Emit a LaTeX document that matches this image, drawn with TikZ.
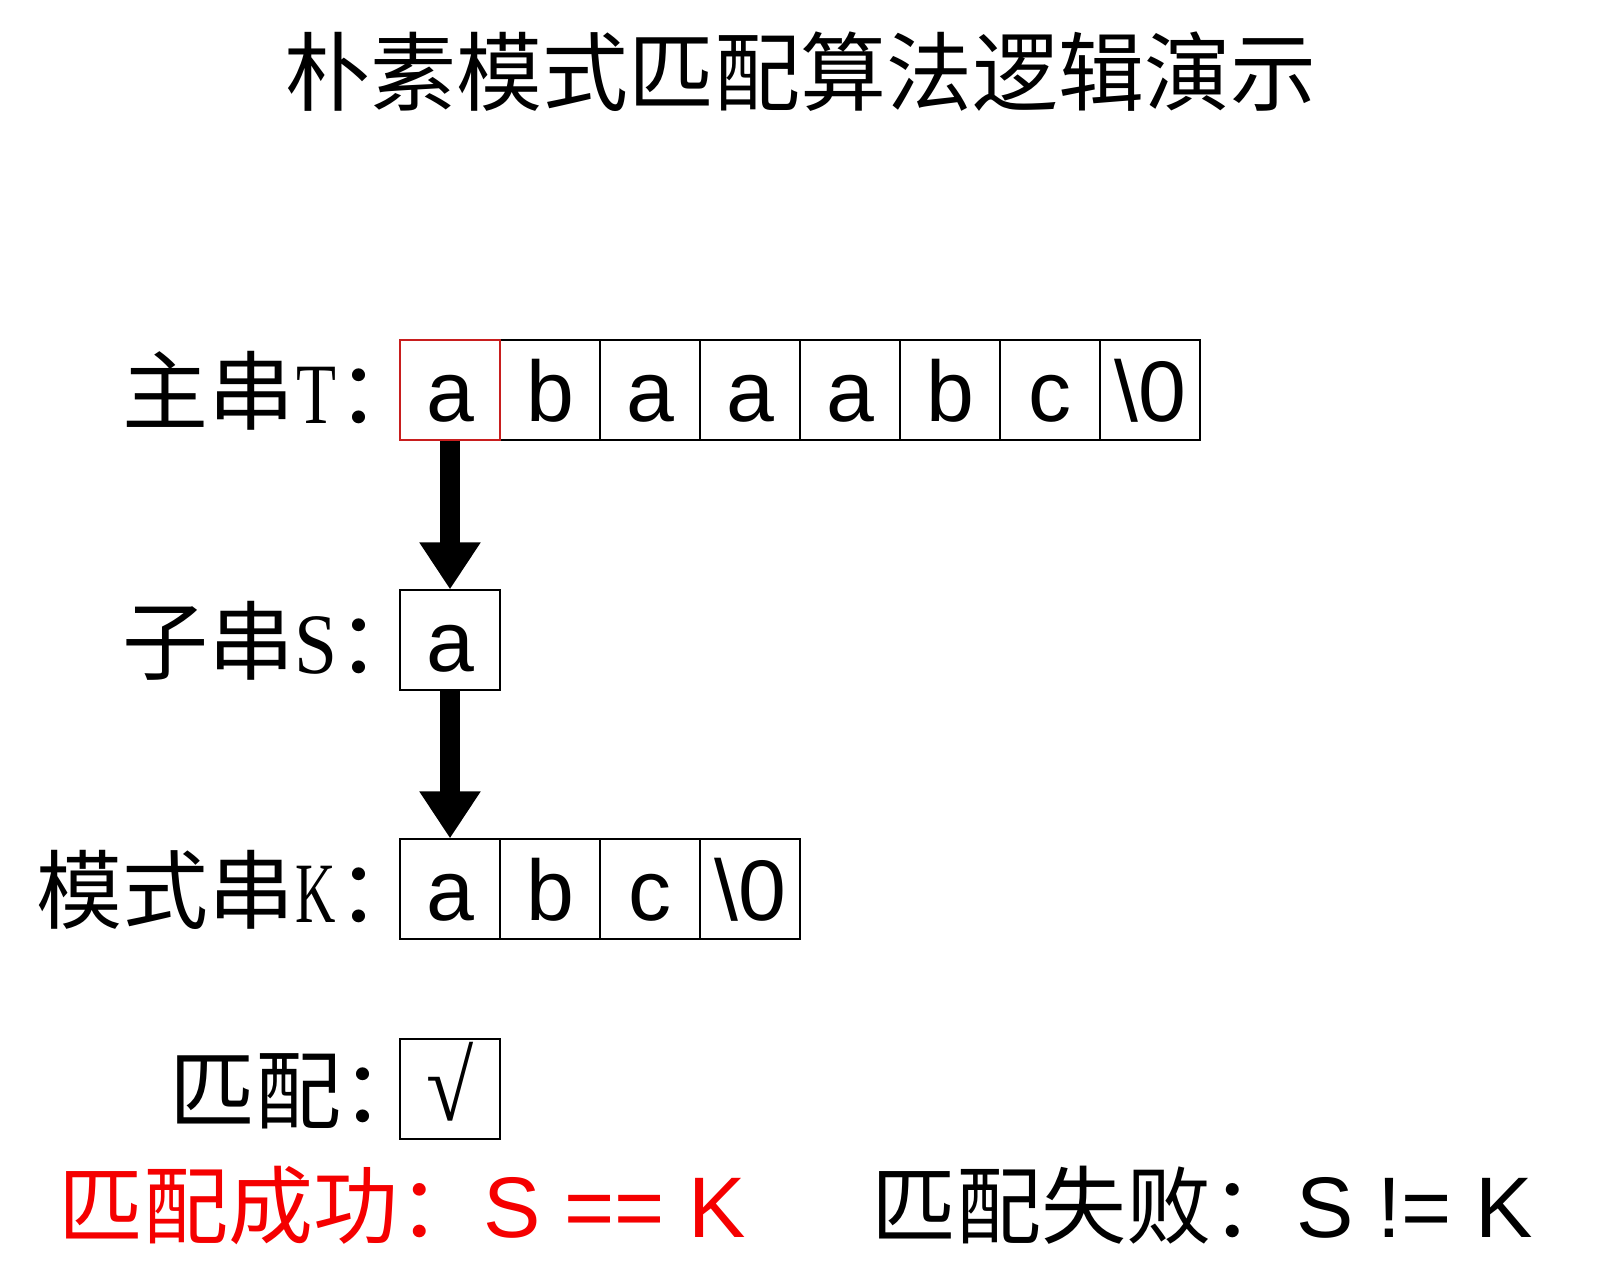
\documentclass[tikz,border=0pt]{standalone}
\usepackage{fontspec}
\usepackage{graphicx}
\usetikzlibrary{arrows.meta}
\setmainfont{Liberation Sans}
\newfontfamily\cjk{Noto Sans CJK SC}
\newfontfamily\lserif{Liberation Serif}
\newcommand\halfw[2]{\makebox[0.5em]{\scalebox{#1}[1]{\lserif #2}}}
\newcommand\halfcolon{\makebox[0.5em][l]{：}}
\definecolor{boxred}{RGB}{200,30,30}
\definecolor{txtred}{RGB}{245,0,0}
\tikzset{
  cellbox/.style={draw=black, line width=0.6pt, minimum width=50pt, minimum height=50pt,
    inner sep=0pt, text height=31pt, text depth=0pt, font=\fontsize{43}{50}\selectfont},
  redcell/.style={cellbox, draw=boxred},
  rowlabel/.style={anchor=base east, inner sep=0pt, font=\cjk\fontsize{43}{50}\selectfont},
  titletext/.style={anchor=base, inner sep=0pt, font=\cjk\fontsize{43}{50}\selectfont},
  bottomtext/.style={anchor=base west, inner sep=0pt, font=\fontsize{43}{50}\selectfont},
  bigarrow/.style={line width=10pt, -{Triangle[length=23.5pt,width=29pt]}}
}
\begin{document}
\begin{tikzpicture}[x=0.5pt,y=-0.5pt]
\useasboundingbox[fill=white] (0,0) rectangle (1600,1280);
% title
\node[titletext] (title) at (800,104) {朴素模式匹配算法逻辑演示};
% row labels
\node[rowlabel] (labT) at (381,423) {主串\halfw{0.76}{T}\halfcolon};
\node[rowlabel] (labS) at (381,673) {子串\halfw{0.9}{S}\halfcolon};
\node[rowlabel] (labK) at (381,922) {模式串\halfw{0.65}{K}\halfcolon};
\node[rowlabel] (labM) at (385,1122) {匹配\halfcolon};
% main string T
\node[cellbox] (t2) at (550,390) {b};
\node[cellbox] (t3) at (650,390) {a};
\node[cellbox] (t4) at (750,390) {a};
\node[cellbox] (t5) at (850,390) {a};
\node[cellbox] (t6) at (950,390) {b};
\node[cellbox] (t7) at (1050,390) {c};
\node[cellbox] (t8) at (1150,390) {\textbackslash 0};
\node[redcell] (t1) at (450,390) {a};
% substring S
\node[cellbox] (s1) at (450,640) {a};
% pattern K
\node[cellbox] (k1) at (450,889) {a};
\node[cellbox] (k2) at (550,889) {b};
\node[cellbox] (k3) at (650,889) {c};
\node[cellbox] (k4) at (750,889) {\textbackslash 0};
% match
\node[cellbox, font=\lserif\fontsize{43}{50}\selectfont] (m1) at (450,1089) {\scalebox{1}[1.15]{√}};
% arrows
\draw[bigarrow] (t1.south) -- (s1.north);
\draw[bigarrow] (s1.south) -- (k1.north);
% bottom lines
\node[bottomtext, text=txtred] (ok) at (58,1237) {{\cjk\fontsize{42.5}{50}\selectfont 匹配成功：}S == K};
\node[bottomtext] (fail) at (871,1237) {{\cjk\fontsize{42.5}{50}\selectfont 匹配失败：}S != K};
\end{tikzpicture}
\end{document}
